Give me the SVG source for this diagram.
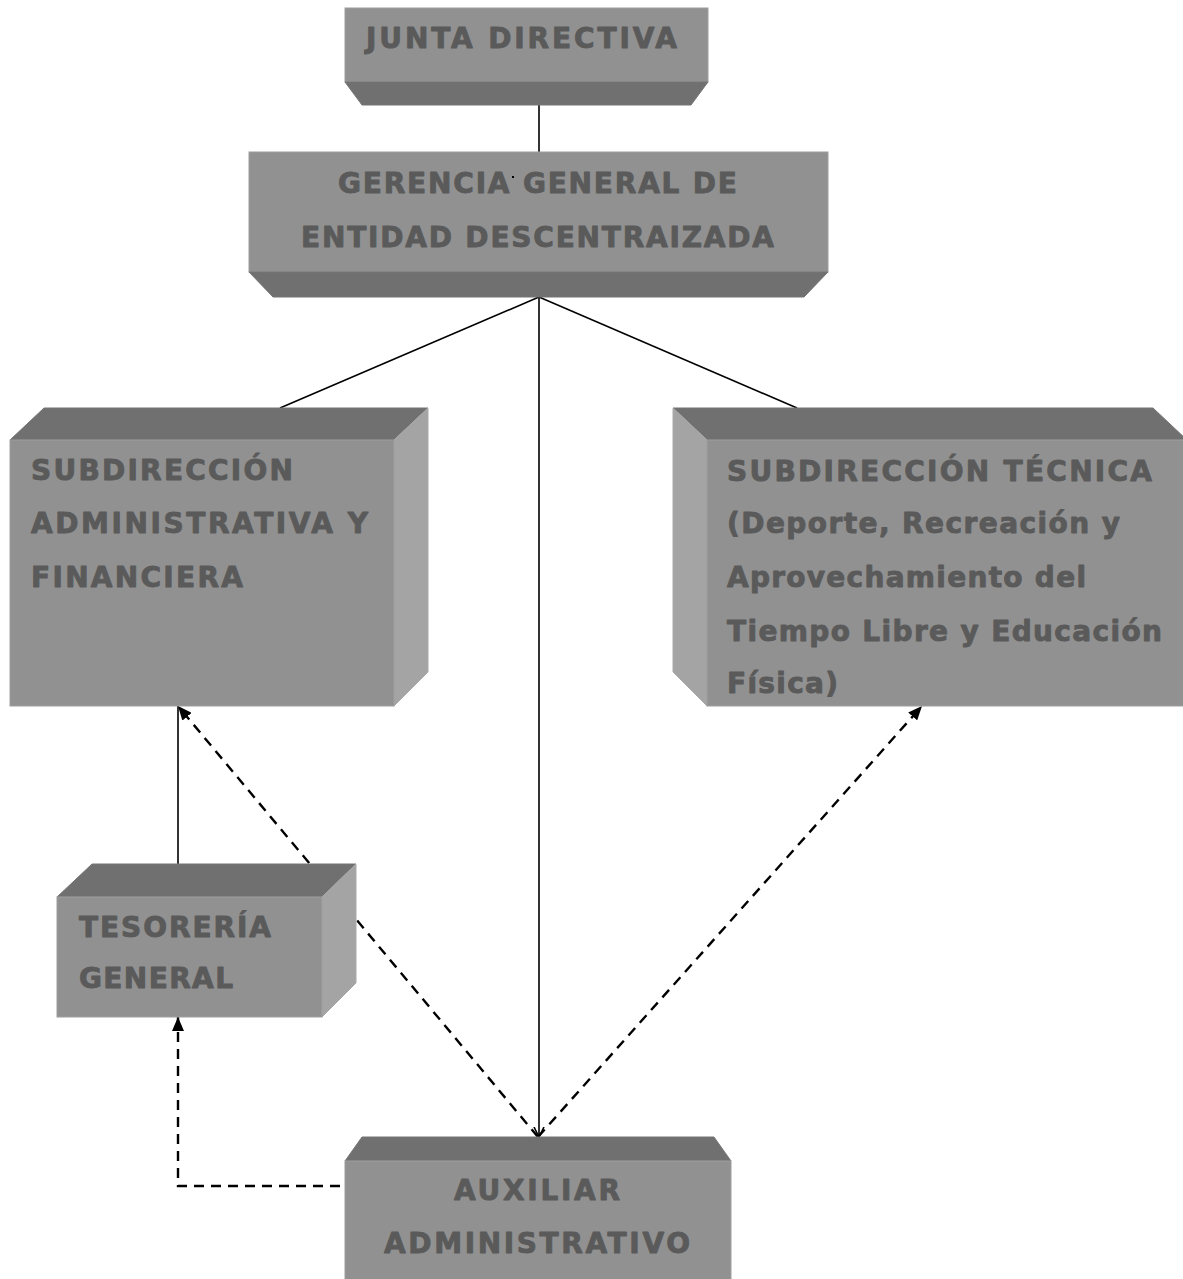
<svg xmlns="http://www.w3.org/2000/svg" width="1183" height="1279" viewBox="0 0 1183 1279">
<style>
.face{fill:#919191;stroke:#9e9e9e;stroke-width:1}
.dark{fill:#707070;stroke:#757575;stroke-width:1}
.side{fill:#a4a4a4;stroke:#aaaaaa;stroke-width:1}
.t{font-family:"DejaVu Sans","Verdana",sans-serif;font-weight:bold;font-size:28px;fill:#5a5a5a;stroke:#5a5a5a;stroke-width:0.9;stroke-linejoin:round}
.solid{stroke:#000;stroke-width:1.6;fill:none}
.dash{stroke:#000;stroke-width:2.4;fill:none;stroke-dasharray:10,7}
</style>
<defs>
<marker id="fa" viewBox="0 0 14 12" refX="14" refY="6" markerWidth="14" markerHeight="12" markerUnits="userSpaceOnUse" orient="auto">
<path d="M0,0 L14,6 L0,12 Z" fill="#000"/>
</marker>
<marker id="oa" viewBox="0 0 10 12" refX="10" refY="6" markerWidth="10" markerHeight="12" markerUnits="userSpaceOnUse" orient="auto">
<path d="M0,1 L10,6 L0,11" fill="none" stroke="#000" stroke-width="1.6"/>
</marker>
</defs>
<rect width="1183" height="1279" fill="#fff"/>

<g id="connectors">
<line class="solid" x1="539" y1="105" x2="539" y2="152"/>
<line class="solid" x1="539" y1="297" x2="280" y2="408"/>
<line class="solid" x1="539" y1="297" x2="797" y2="408"/>
<line class="solid" x1="539" y1="297" x2="539" y2="1137" marker-end="url(#oa)"/>
<line class="solid" x1="178" y1="706" x2="178" y2="864"/>
<line class="dash" x1="538" y1="1137" x2="178" y2="706" marker-end="url(#fa)"/>
<line class="dash" x1="538" y1="1137" x2="922" y2="706" marker-end="url(#fa)"/>
<polyline class="dash" points="340,1186 178,1186 178,1017" marker-end="url(#fa)"/>
</g>

<g id="junta">
<rect class="face" x="345" y="8" width="363" height="74"/>
<polygon class="dark" points="345,82 708,82 691,105 362,105"/>
<text class="t" x="366" y="48" textLength="311" lengthAdjust="spacing">JUNTA DIRECTIVA</text>
</g>

<g id="gerencia">
<rect class="face" x="249" y="152" width="579" height="120"/>
<polygon class="dark" points="249,272 828,272 804,297 273,297"/>
<text class="t" x="338" y="193" textLength="399" lengthAdjust="spacing">GERENCIA GENERAL DE</text>
<text class="t" x="301" y="247" textLength="473" lengthAdjust="spacing">ENTIDAD DESCENTRAIZADA</text>
<rect x="512" y="176" width="2" height="2" fill="#000"/>
</g>

<g id="sub-admin">
<polygon class="dark" points="44,408 428,408 394,440 10,440"/>
<polygon class="side" points="394,440 428,408 428,672 394,706"/>
<rect class="face" x="10" y="440" width="384" height="266"/>
<text class="t" x="31" y="480" textLength="262" lengthAdjust="spacing">SUBDIRECCIÓN</text>
<text class="t" x="31" y="533" textLength="337" lengthAdjust="spacing">ADMINISTRATIVA Y</text>
<text class="t" x="31" y="587" textLength="212" lengthAdjust="spacing">FINANCIERA</text>
</g>

<g id="sub-tecnica">
<polygon class="dark" points="673,408 1153,408 1187,440 707,440"/>
<polygon class="side" points="673,408 707,440 707,706 673,672"/>
<rect class="face" x="707" y="440" width="485" height="266"/>
<text class="t" x="727" y="481" textLength="425" lengthAdjust="spacing">SUBDIRECCIÓN TÉCNICA</text>
<text class="t" x="727" y="533" textLength="393" lengthAdjust="spacing">(Deporte, Recreación y</text>
<text class="t" x="727" y="587" textLength="359" lengthAdjust="spacing">Aprovechamiento del</text>
<text class="t" x="727" y="641" textLength="435" lengthAdjust="spacing">Tiempo Libre y Educación</text>
<text class="t" x="727" y="693" textLength="111" lengthAdjust="spacing">Física)</text>
</g>

<g id="tesoreria">
<polygon class="dark" points="92,864 356,864 322,897 57,897"/>
<polygon class="side" points="322,897 356,864 356,983 322,1017"/>
<rect class="face" x="57" y="897" width="265" height="120"/>
<text class="t" x="79" y="937" textLength="192" lengthAdjust="spacing">TESORERÍA</text>
<text class="t" x="79" y="988" textLength="154" lengthAdjust="spacing">GENERAL</text>
</g>

<g id="auxiliar">
<polygon class="dark" points="362,1137 714,1137 731,1161 345,1161"/>
<rect class="face" x="345" y="1161" width="386" height="130"/>
<text class="t" x="454" y="1200" textLength="166" lengthAdjust="spacing">AUXILIAR</text>
<text class="t" x="384" y="1253" textLength="306" lengthAdjust="spacing">ADMINISTRATIVO</text>
</g>
</svg>
